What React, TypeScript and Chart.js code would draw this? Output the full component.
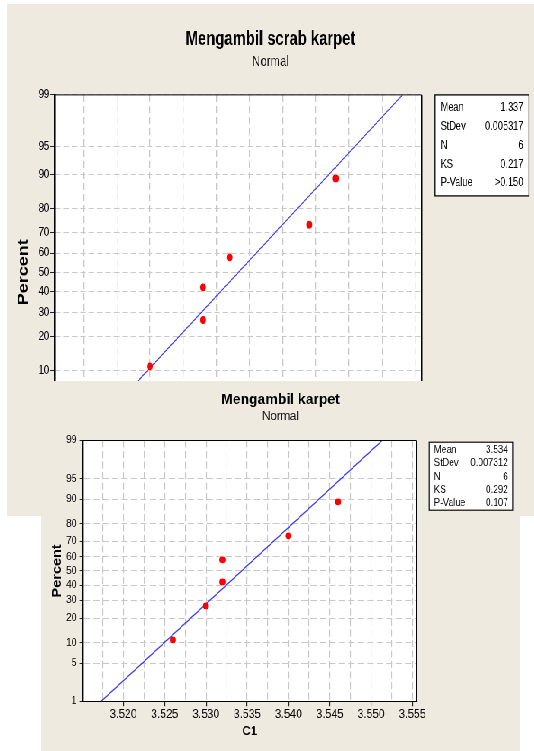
import React, { useEffect, useRef } from "react";
import { Chart, registerables } from "chart.js";

Chart.register(...registerables);

// ---------------- data ----------------
const percentTicks = [1, 5, 10, 20, 30, 40, 50, 60, 70, 80, 90, 95, 99];
const plotPercent = [10.9, 26.6, 42.2, 57.8, 73.4, 89.1];
const statLabels = ["Mean", "StDev", "N", "KS", "P-Value"];
const yTitle = "Percent";

const titleA = "Mengambil scrab karpet";
const subtitleA = "Normal";
const valuesA = [1.33, 1.334, 1.334, 1.336, 1.342, 1.344];
const xGridA = [1.325, 1.3275, 1.33, 1.3325, 1.335, 1.3375, 1.34, 1.3425, 1.345, 1.3475, 1.35];
const statValuesA = ["1.337", "0.005317", "6", "0.217", ">0.150"];

const titleB = "Mengambil karpet";
const subtitleB = "Normal";
const xTitleB = "C1";
const valuesB = [3.526, 3.53, 3.532, 3.532, 3.54, 3.546];
const xGridB = [3.5175, 3.52, 3.5225, 3.525, 3.5275, 3.53, 3.5325, 3.535, 3.5375, 3.54, 3.5425, 3.545, 3.5475, 3.55, 3.5525, 3.555];
const statValuesB = ["3.534", "0.007312", "6", "0.292", "0.107"];

// ---------------- helpers ----------------
function probit(p: number): number {
  const a = [-3.969683028665376e1, 2.209460984245205e2, -2.759285104469687e2, 1.38357751867269e2, -3.066479806614716e1, 2.506628277459239];
  const b = [-5.447609879822406e1, 1.615858368580409e2, -1.556989798598866e2, 6.680131188771972e1, -1.328068155288572e1];
  const c = [-7.784894002430293e-3, -3.223964580411365e-1, -2.400758277161838, -2.549732539343734, 4.374664141464968, 2.938163982698783];
  const d = [7.784695709041462e-3, 3.224671290700398e-1, 2.445134137142996, 3.754408661907416];
  const pl = 0.02425;
  let q: number, r: number;
  if (p < pl) {
    q = Math.sqrt(-2 * Math.log(p));
    return (((((c[0] * q + c[1]) * q + c[2]) * q + c[3]) * q + c[4]) * q + c[5]) / ((((d[0] * q + d[1]) * q + d[2]) * q + d[3]) * q + 1);
  }
  if (p <= 1 - pl) {
    q = p - 0.5;
    r = q * q;
    return ((((((a[0] * r + a[1]) * r + a[2]) * r + a[3]) * r + a[4]) * r + a[5]) * q) / (((((b[0] * r + b[1]) * r + b[2]) * r + b[3]) * r + b[4]) * r + 1);
  }
  q = Math.sqrt(-2 * Math.log(1 - p));
  return -(((((c[0] * q + c[1]) * q + c[2]) * q + c[3]) * q + c[4]) * q + c[5]) / ((((d[0] * q + d[1]) * q + d[2]) * q + d[3]) * q + 1);
}

const isMajor = (v: any) => {
  if (v === undefined || v === null) return false;
  const k = Number(v) / 0.005;
  return Math.abs(k - Math.round(k)) < 1e-6;
};

const BG = "#eeeae0";
const GRID = "#c8c8c8";
const RED = "#ff0000";
const BLUE = "#3a3af0";
const FAMILY = "'Liberation Sans', Arial, sans-serif";

const panelA = {
  left: 7, top: 4, screenW: 527, nativeW: 693, height: 512,
  title: titleA, subtitle: subtitleA, xTitle: "",
  values: valuesA, xMin: 1.3228, xMax: 1.3505, xGrid: xGridA, stats: statValuesA,
  padTop: 23.8, titleSize: 19.5, subSize: 15, subPad: { top: 2.1, bottom: 23.6 },
  yAxisW: 62.46, xAxisH: 66.2, padRight: 147.3,
  yTickFont: 12.5, xTickFont: 12.5, yTickLen: 6, yTickPad: 1, xTickLen: 5, xTickPad: 2,
  yTitleSize: 18, yTitlePad: 11.55, xTitlePad: 0,
  vLine: 1.3, dash: [7, 4], pointR: 3.9,
  box: { dx: 17.1, dy: 0, w: 123.6, h: 101, first: 13, step: 18.8, inL: 7.5, inR: 7.5, font: 12 },
};

const panelB = {
  left: 41, top: 381, screenW: 479, nativeW: 532, height: 370,
  title: titleB, subtitle: subtitleB, xTitle: xTitleB,
  values: valuesB, xMin: 3.51508, xMax: 3.55553, xGrid: xGridB, stats: statValuesB,
  padTop: 9.6, titleSize: 15.5, subSize: 12.5, subPad: { top: 0, bottom: 16.3 },
  yAxisW: 46.3, xAxisH: 49.7, padRight: 114.7,
  yTickFont: 10.5, xTickFont: 12, yTickLen: 3.7, yTickPad: 3, xTickLen: 5, xTickPad: 1.2,
  yTitleSize: 14.5, yTitlePad: 9.6, xTitlePad: 11.9,
  vLine: 1.15, dash: [7, 3.5], pointR: 3.4,
  box: { dx: 13.9, dy: 1.7, w: 92.7, h: 68, first: 8, step: 13.33, inL: 5.3, inR: 5, font: 10 },
};

function ProbPlot({ p }: { p: any }) {
  const ref = useRef<HTMLCanvasElement | null>(null);

  useEffect(() => {
    const canvas = ref.current;
    if (!canvas) return;
    const n = p.values.length;
    const mean = p.values.reduce((s: number, v: number) => s + v, 0) / n;
    const sd = Math.sqrt(p.values.reduce((s: number, v: number) => s + (v - mean) ** 2, 0) / (n - 1));
    const zLo = probit(percentTicks[0] / 100);
    const zHi = probit(percentTicks[percentTicks.length - 1] / 100);
    const points = p.values.map((v: number, i: number) => ({ x: v, y: probit(plotPercent[i] / 100) }));
    const fit = [
      { x: mean + zLo * sd, y: zLo },
      { x: mean + zHi * sd, y: zHi },
    ];

    const panelPlugin = {
      id: "panelDecor",
      beforeDraw(chart: any) {
        const { ctx, chartArea: a, width, height } = chart;
        ctx.save();
        ctx.fillStyle = BG;
        ctx.fillRect(0, 0, width, height);
        ctx.fillStyle = "#ffffff";
        ctx.fillRect(a.left, a.top, a.right - a.left, a.bottom - a.top);
        ctx.restore();
      },
      afterDraw(chart: any) {
        const { ctx, chartArea: a } = chart;
        ctx.save();
        ctx.strokeStyle = "#000";
        ctx.lineWidth = 1;
        ctx.beginPath();
        ctx.moveTo(a.left, a.top);
        ctx.lineTo(a.right, a.top);
        ctx.stroke();
        ctx.lineWidth = p.vLine * 1.2;
        ctx.beginPath();
        ctx.moveTo(a.right, a.top);
        ctx.lineTo(a.right, a.bottom);
        ctx.stroke();

        const b = p.box;
        const bx = a.right + b.dx;
        const by = a.top + b.dy;
        ctx.fillStyle = "#ffffff";
        ctx.fillRect(bx, by, b.w, b.h);
        ctx.strokeStyle = "#000";
        ctx.lineWidth = p.vLine;
        ctx.strokeRect(bx, by, b.w, b.h);
        ctx.fillStyle = "#000";
        ctx.font = `${b.font}px ${FAMILY}`;
        ctx.textBaseline = "middle";
        statLabels.forEach((lab, i) => {
          const y = by + b.first + i * b.step;
          ctx.textAlign = "left";
          ctx.fillText(lab, bx + b.inL, y);
          ctx.textAlign = "right";
          ctx.fillText(p.stats[i], bx + b.w - b.inR, y);
        });
        ctx.restore();
      },
    };

    const chart = new Chart(canvas, {
      type: "scatter",
      data: {
        datasets: [
          {
            data: points,
            backgroundColor: RED,
            borderColor: RED,
            pointRadius: p.pointR,
            pointHoverRadius: p.pointR,
            pointBorderWidth: 0,
          },
          {
            data: fit,
            showLine: true,
            borderColor: BLUE,
            borderWidth: 1.2,
            pointRadius: 0,
            pointHoverRadius: 0,
            fill: false,
          },
        ],
      },
      options: {
        responsive: false,
        animation: false,
        devicePixelRatio: 1,
        events: [],
        layout: { padding: { top: p.padTop, right: 0, left: 0, bottom: 0 } },
        plugins: {
          legend: { display: false },
          tooltip: { enabled: false },
          title: {
            display: true,
            text: p.title,
            color: "#000",
            font: { family: FAMILY, size: p.titleSize, weight: "bold", lineHeight: 1.2 },
            padding: { top: 0, bottom: 0 },
          },
          subtitle: {
            display: true,
            text: p.subtitle,
            color: "#111",
            font: { family: FAMILY, size: p.subSize, weight: "normal", lineHeight: 1.2 },
            padding: p.subPad,
          },
        },
        scales: {
          x: {
            type: "linear",
            min: p.xMin,
            max: p.xMax,
            afterBuildTicks: (s: any) => {
              s.ticks = p.xGrid.map((v: number) => ({ value: v }));
            },
            afterFit: (s: any) => {
              s.height = p.xAxisH;
            },
            ticks: {
              autoSkip: false,
              maxRotation: 0,
              minRotation: 0,
              padding: p.xTickPad,
              color: "#000",
              font: { family: FAMILY, size: p.xTickFont },
              callback: (v: any) => (isMajor(v) ? Number(v).toFixed(3) : ""),
            },
            grid: {
              color: GRID,
              lineWidth: p.vLine,
              tickLength: p.xTickLen,
              tickWidth: p.vLine,
              tickColor: (c: any) => (isMajor(c.tick ? c.tick.value : undefined) ? "#222" : "rgba(0,0,0,0)"),
            },
            border: { color: "#000", width: 1, dash: p.dash },
            title: p.xTitle
              ? {
                  display: true,
                  text: p.xTitle,
                  color: "#000",
                  font: { family: FAMILY, size: 13, weight: "bold", lineHeight: 1.2 },
                  padding: { top: 0, bottom: p.xTitlePad },
                }
              : { display: false },
          },
          y: {
            type: "linear",
            min: zLo,
            max: zHi,
            afterBuildTicks: (s: any) => {
              s.ticks = percentTicks.map((q) => ({ value: probit(q / 100) }));
            },
            afterFit: (s: any) => {
              s.width = p.yAxisW;
            },
            ticks: {
              autoSkip: false,
              padding: p.yTickPad,
              color: "#000",
              font: { family: FAMILY, size: p.yTickFont },
              callback: (_v: any, i: number) => String(percentTicks[i]),
            },
            grid: { color: GRID, lineWidth: 1, tickLength: p.yTickLen, tickColor: "#222", tickWidth: 1 },
            border: { color: "#000", width: p.vLine * 1.2, dash: p.dash },
            title: {
              display: true,
              text: yTitle,
              color: "#000",
              font: { family: FAMILY, size: p.yTitleSize, weight: "bold", lineHeight: 1.2 },
              padding: { top: p.yTitlePad, bottom: 0 },
            },
          },
          // invisible right-hand spacer that reserves room for the statistics box
          pad: {
            type: "linear",
            position: "right",
            display: true,
            afterFit: (s: any) => {
              s.width = p.padRight;
            },
            grid: { display: false, drawOnChartArea: false, drawTicks: false },
            border: { display: false },
            ticks: { display: false },
          },
        },
      } as any,
      plugins: [panelPlugin],
    } as any);

    return () => chart.destroy();
  }, [p]);

  return (
    <div
      style={{
        position: "absolute",
        left: p.left,
        top: p.top,
        width: p.nativeW,
        height: p.height,
        background: BG,
        transform: `scaleX(${p.screenW / p.nativeW})`,
        transformOrigin: "0 0",
      }}
    >
      <canvas ref={ref} width={p.nativeW} height={p.height} style={{ display: "block" }} />
    </div>
  );
}

export default function App() {
  return (
    <div
      style={{
        position: "absolute",
        left: 0,
        top: 0,
        width: 534,
        height: 751,
        overflow: "hidden",
        background: "#ffffff",
      }}
    >
      <ProbPlot p={panelA} />
      <ProbPlot p={panelB} />
    </div>
  );
}
